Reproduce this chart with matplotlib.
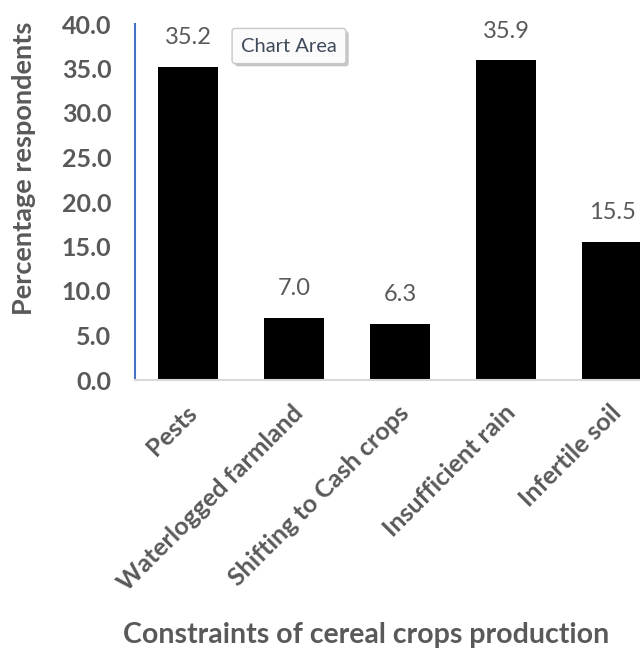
import matplotlib.pyplot as plt
import matplotlib.patheffects as pe
import matplotlib.transforms as mtransforms

plt.rcParams['font.family'] = ['Lato', 'DejaVu Sans']

constraints = ['Pests', 'Waterlogged farmland', 'Shifting to Cash crops',
               'Insufficient rain', 'Infertile soil']
percent = [35.2, 7.0, 6.3, 35.9, 15.5]
yticks = [0, 5, 10, 15, 20, 25, 30, 35, 40]

grey = '#595959'

fig = plt.figure(figsize=(6.4, 6.5), dpi=100)
# plot area runs past the right edge, so the last bar is cut off
ax = fig.add_axes([135 / 640, 270 / 650, 530 / 640, 356 / 650])

x = range(len(constraints))
ax.bar(x, percent, width=0.57, color='black')
for i, v in zip(x, percent):
    ax.annotate(f'{v:.1f}', (i, v), xytext=(0, 21), textcoords='offset points',
                ha='center', va='center', fontsize=17, color=grey)

ax.set_xlim(-0.5, 4.5)
ax.set_ylim(0, 40)
ax.set_yticks(yticks)
ax.set_yticklabels([f'{t:.1f}' for t in yticks], fontsize=18,
                   fontweight='bold', color=grey)
ax.tick_params(axis='y', length=0, pad=17)
ax.set_xticks(list(x))
ax.set_xticklabels(constraints, rotation=45, ha='right', va='center',
                   rotation_mode='anchor', fontsize=18, fontweight='bold',
                   color=grey)
ax.tick_params(axis='x', length=0, pad=21)
shift = mtransforms.ScaledTranslation(4 / 72, 0, fig.dpi_scale_trans)
for lab in ax.get_xticklabels():
    lab.set_transform(lab.get_transform() + shift)

ax.spines['top'].set_visible(False)
ax.spines['right'].set_visible(False)
ax.spines['left'].set_color('#4472C4')
ax.spines['left'].set_linewidth(1.5)
ax.spines['bottom'].set_color('#D9D9D9')
ax.spines['bottom'].set_linewidth(1.5)

fig.text(24 / 640, 1 - 168 / 650, 'Percentage respondents', rotation=90,
         ha='center', va='center', fontsize=19.5, fontweight='bold', color=grey)
fig.text(366 / 640, 1 - 635 / 650, 'Constraints of cereal crops production',
         ha='center', va='center', fontsize=20.5, fontweight='bold', color=grey)

# selection tooltip
tip = fig.text(289 / 640, 1 - 46 / 650, 'Chart Area', ha='center', va='center',
               fontsize=14.5, color='#3F4A5A',
               bbox=dict(boxstyle='round,pad=0.45,rounding_size=0.15',
                         fc='#FBFBFB', ec='#C8C8C8', lw=1))
tip.get_bbox_patch().set_path_effects(
    [pe.withSimplePatchShadow(offset=(2, -2), shadow_rgbFace='#A0A0A0', alpha=0.6)])

fig.savefig('out.png', dpi=100)
